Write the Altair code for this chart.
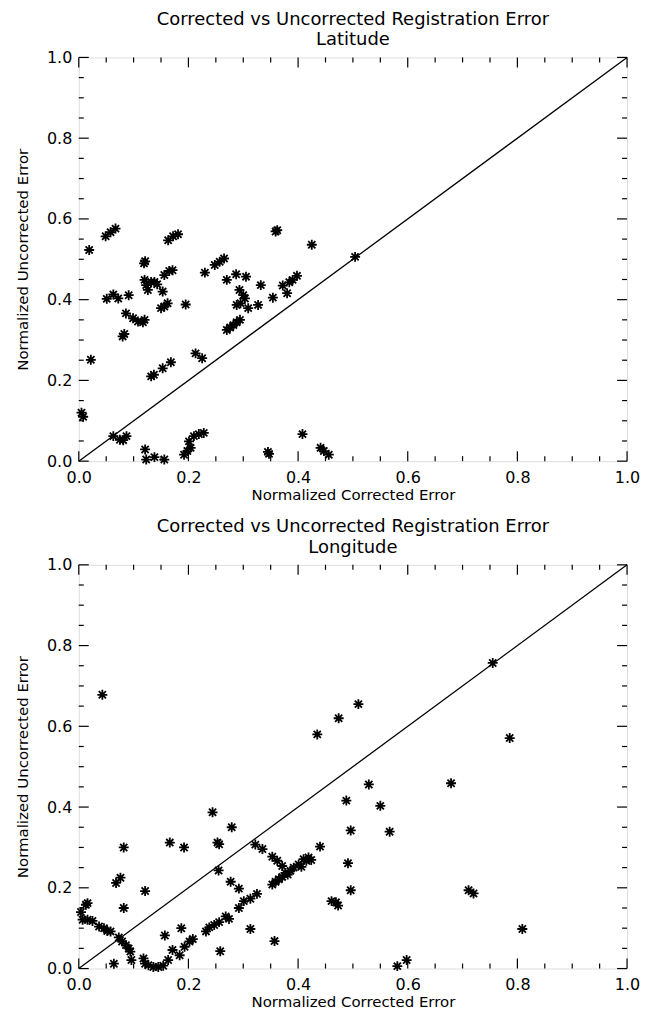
import altair as alt
import pandas as pd

# ---------------- data ----------------
lat_x = [0.005, 0.008, 0.022, 0.019, 0.049, 0.058, 0.067, 0.051, 0.063, 0.072,
         0.091, 0.086, 0.099, 0.108, 0.117, 0.120, 0.080, 0.083, 0.119, 0.121,
         0.120, 0.123, 0.126, 0.132, 0.138, 0.143, 0.153, 0.156, 0.165, 0.171,
         0.150, 0.156, 0.162, 0.195, 0.163, 0.172, 0.181, 0.132, 0.137, 0.153,
         0.168, 0.213, 0.225, 0.230, 0.248, 0.257, 0.265, 0.270, 0.287, 0.305,
         0.293, 0.300, 0.303, 0.288, 0.295, 0.309, 0.327, 0.332, 0.354, 0.372,
         0.380, 0.384, 0.390, 0.398, 0.270, 0.276, 0.282, 0.288, 0.294, 0.359,
         0.362, 0.425, 0.504, 0.063, 0.075, 0.081, 0.087, 0.121, 0.123, 0.138,
         0.156, 0.192, 0.198, 0.204, 0.201, 0.210, 0.219, 0.228, 0.345, 0.347,
         0.408, 0.441, 0.447, 0.456]
lat_y = [0.120, 0.110, 0.251, 0.523, 0.557, 0.567, 0.576, 0.402, 0.413, 0.403,
         0.411, 0.366, 0.354, 0.346, 0.344, 0.350, 0.309, 0.315, 0.490, 0.495,
         0.449, 0.436, 0.424, 0.444, 0.444, 0.438, 0.420, 0.461, 0.471, 0.473,
         0.379, 0.383, 0.391, 0.388, 0.547, 0.557, 0.562, 0.210, 0.214, 0.230,
         0.245, 0.267, 0.255, 0.467, 0.486, 0.494, 0.502, 0.449, 0.463, 0.457,
         0.424, 0.411, 0.403, 0.387, 0.391, 0.379, 0.387, 0.436, 0.405, 0.435,
         0.416, 0.443, 0.449, 0.459, 0.325, 0.331, 0.337, 0.344, 0.350, 0.569,
         0.572, 0.536, 0.506, 0.062, 0.053, 0.052, 0.062, 0.029, 0.004, 0.010,
         0.004, 0.016, 0.025, 0.033, 0.049, 0.062, 0.067, 0.070, 0.023, 0.018,
         0.067, 0.033, 0.025, 0.016]

lon_x = [0.004, 0.013, 0.016, 0.007, 0.016, 0.025, 0.037, 0.046, 0.052, 0.058,
         0.073, 0.079, 0.086, 0.091, 0.094, 0.096, 0.064, 0.068, 0.076, 0.082,
         0.082, 0.121, 0.118, 0.121, 0.127, 0.136, 0.145, 0.154, 0.163, 0.166,
         0.157, 0.171, 0.187, 0.184, 0.193, 0.202, 0.208, 0.192, 0.232, 0.238,
         0.247, 0.256, 0.268, 0.274, 0.244, 0.253, 0.256, 0.255, 0.258, 0.279,
         0.277, 0.292, 0.292, 0.301, 0.313, 0.325, 0.313, 0.322, 0.335, 0.353,
         0.362, 0.371, 0.377, 0.381, 0.353, 0.359, 0.365, 0.371, 0.386, 0.392,
         0.401, 0.410, 0.419, 0.357, 0.440, 0.461, 0.043, 0.435, 0.474, 0.510,
         0.755, 0.786, 0.529, 0.488, 0.550, 0.679, 0.496, 0.567, 0.415, 0.424,
         0.406, 0.491, 0.496, 0.469, 0.473, 0.711, 0.720, 0.809, 0.581, 0.598]
lon_y = [0.140, 0.158, 0.162, 0.121, 0.121, 0.118, 0.104, 0.100, 0.093, 0.092,
         0.077, 0.067, 0.058, 0.050, 0.042, 0.021, 0.012, 0.212, 0.225, 0.300,
         0.150, 0.192, 0.025, 0.012, 0.008, 0.004, 0.004, 0.007, 0.021, 0.312,
         0.082, 0.046, 0.100, 0.033, 0.054, 0.067, 0.073, 0.300, 0.092, 0.102,
         0.108, 0.115, 0.129, 0.123, 0.387, 0.312, 0.308, 0.243, 0.043, 0.350,
         0.215, 0.198, 0.150, 0.167, 0.173, 0.185, 0.098, 0.307, 0.296, 0.277,
         0.267, 0.254, 0.237, 0.233, 0.208, 0.215, 0.221, 0.227, 0.242, 0.250,
         0.258, 0.271, 0.275, 0.068, 0.302, 0.167, 0.678, 0.580, 0.620, 0.655,
         0.757, 0.571, 0.456, 0.416, 0.403, 0.459, 0.342, 0.339, 0.267, 0.269,
         0.252, 0.261, 0.194, 0.164, 0.156, 0.194, 0.186, 0.098, 0.006, 0.021]

major_ticks = [0.0, 0.2, 0.4, 0.6, 0.8, 1.0]
minor_ticks = [0.05, 0.1, 0.15, 0.25, 0.3, 0.35, 0.45, 0.5, 0.55,
               0.65, 0.7, 0.75, 0.85, 0.9, 0.95]
diag = [0.0, 1.0]

main_title = "Corrected vs Uncorrected Registration Error"
x_title = "Normalized Corrected Error"
y_title = "Normalized Uncorrected Error"

# ---------------- styling ----------------
FONT = "DejaVu Sans"
ASTER = "M-1,0L1,0M0,-1L0,1M-0.72,-0.72L0.72,0.72M-0.72,0.72L0.72,-0.72"
W, H = 550, 405
MAJ, MIN = 10, 5


def ticks_layer(values, size, sc):
    tdf = pd.DataFrame({"t": values})
    base = alt.Chart(tdf).mark_rule(color="black", strokeWidth=1.2)
    bottom = base.encode(x=alt.X("t:Q", scale=sc, axis=None),
                         y=alt.value(H), y2=alt.value(H - size))
    top = base.encode(x=alt.X("t:Q", scale=sc, axis=None),
                      y=alt.value(0), y2=alt.value(size))
    left = base.encode(y=alt.Y("t:Q", scale=sc, axis=None),
                       x=alt.value(0), x2=alt.value(size))
    right = base.encode(y=alt.Y("t:Q", scale=sc, axis=None),
                        x=alt.value(W), x2=alt.value(W - size))
    return [bottom, top, left, right]


def label_axis(orient, title, pad, tpad):
    return alt.Axis(orient=orient, values=major_ticks, ticks=False, domain=False,
                    grid=False, format=".1f", labelFont=FONT, labelFontSize=16,
                    labelColor="black", labelPadding=pad, labelFlush=False,
                    title=title, titleFont=FONT, titleFontSize=15,
                    titleFontWeight="normal", titleColor="black", titlePadding=tpad)


def panel(xs, ys, subtitle):
    df = pd.DataFrame({"x": xs, "y": ys})
    ldf = pd.DataFrame({"x": diag, "y": diag})
    sc = alt.Scale(domain=[0, 1], nice=False, zero=False)

    pts = alt.Chart(df).mark_point(
        shape=ASTER, size=100, filled=False, color="black", opacity=1,
        strokeWidth=1.8
    ).encode(
        x=alt.X("x:Q", scale=sc, axis=label_axis("bottom", x_title, 8, 2)),
        y=alt.Y("y:Q", scale=sc, axis=label_axis("left", y_title, 7, 16)),
    )
    line = alt.Chart(ldf).mark_line(color="black", strokeWidth=1.3).encode(
        x=alt.X("x:Q", scale=sc, axis=None),
        y=alt.Y("y:Q", scale=sc, axis=None),
    )
    layers = [pts, line] + ticks_layer(major_ticks, MAJ, sc) + ticks_layer(minor_ticks, MIN, sc)
    return alt.layer(*layers).resolve_axis(
        x="independent", y="independent"
    ).properties(
        width=W, height=H,
        title=alt.TitleParams([main_title, subtitle], font=FONT, fontSize=18,
                              fontWeight="normal", color="black", anchor="middle",
                              lineHeight=21, offset=0),
    )


chart = alt.vconcat(
    panel(lat_x, lat_y, "Latitude"),
    panel(lon_x, lon_y, "Longitude"),
    spacing=14,
).configure_view(
    stroke="black", strokeWidth=1.5
).configure(
    background="white", padding={"left": 7, "top": 0, "right": 0, "bottom": 0}
)

chart.save("out.html", embed_options={"renderer": "svg", "actions": False})
